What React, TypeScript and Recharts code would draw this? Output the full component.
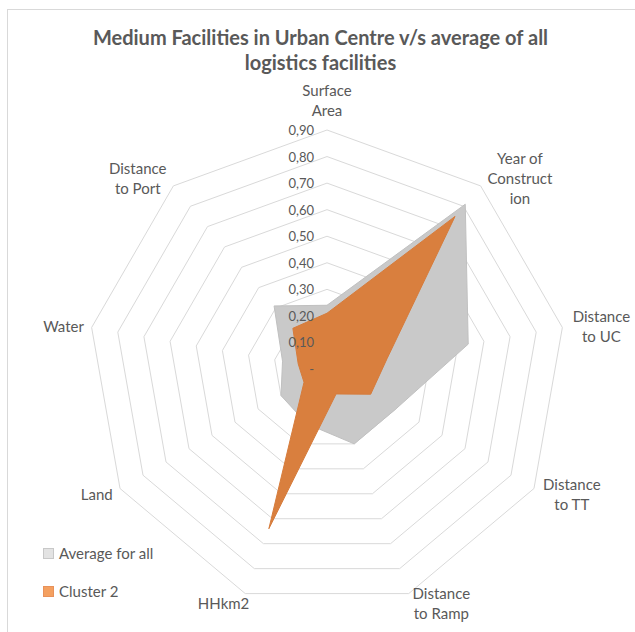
import { RadarChart, Radar, PolarGrid, PolarAngleAxis, PolarRadiusAxis } from 'recharts';

// axis categories (clockwise from the top)
const categories = [
  'Surface Area',
  'Year of Construction',
  'Distance to UC',
  'Distance to TT',
  'Distance to Ramp',
  'HHkm2',
  'Land',
  'Water',
  'Distance to Port',
];

// wrapped the way the original labels break
const categoryLines = [
  ['Surface', 'Area'],
  ['Year of', 'Construct', 'ion'],
  ['Distance', 'to UC'],
  ['Distance', 'to TT'],
  ['Distance', 'to Ramp'],
  ['HHkm2'],
  ['Land'],
  ['Water'],
  ['Distance', 'to Port'],
];

const averageForAll = [0.24, 0.81, 0.54, 0.3, 0.3, 0.22, 0.2, 0.17, 0.31];
const cluster2 = [0.21, 0.75, 0.23, 0.19, 0.1, 0.64, 0.1, 0.11, 0.2];

const radiusMax = 0.9;

const W = 635;
const H = 632;
const CX = 327;
const CY = 369;
const R = 239;
const FONT = 'Lato, "Open Sans", sans-serif';
const TEXT = '#595959';

const data = categories.map((c, i) => ({
  category: c,
  average: averageForAll[i],
  cluster: cluster2[i],
}));

function AngleTick(props: any) {
  const i = categories.indexOf(props.payload.value);
  const lines = categoryLines[i] || [props.payload.value];
  const theta = (i * 2 * Math.PI) / categories.length;
  const s = Math.sin(theta);
  const c = Math.cos(theta);
  const gap = 10;
  const ax = CX + (R + gap) * s;
  const ay = CY - (R + gap) * c;
  const lh = 20;
  const h = lines.length * lh;
  const w = Math.max(...lines.map((l) => l.length * 7.3));
  let x = ax;
  let y = ay;
  if (s > 0.1) x = ax + w / 2;
  else if (s < -0.1) x = ax - w / 2;
  else y = ay - (c * h) / 2;
  const top = y - h / 2 + lh / 2;
  return (
    <text x={x} y={top} textAnchor="middle" fill={TEXT} fontSize={15} fontFamily={FONT}>
      {lines.map((l, k) => (
        <tspan key={k} x={x} y={top + k * lh} dominantBaseline="central">
          {l}
        </tspan>
      ))}
    </text>
  );
}

function RadiusTick(props: any) {
  const v = props.payload.value;
  const label = v === 0 ? '-' : v.toFixed(2).replace('.', ',');
  return (
    <text
      x={props.x - 13}
      y={props.y}
      textAnchor="end"
      dominantBaseline="central"
      fill={TEXT}
      fontSize={13}
      fontFamily={FONT}
    >
      {label}
    </text>
  );
}

export default function App() {
  return (
    <div style={{ position: 'absolute', left: 0, top: 0, width: W, height: H, overflow: 'hidden', background: '#fff' }}>
      <div
        style={{
          position: 'absolute',
          left: 7,
          top: 9,
          width: W + 20,
          height: H + 20,
          border: '1px solid #d9d9d9',
        }}
      />
      <div
        style={{
          position: 'absolute',
          left: 0,
          top: 25,
          width: 641,
          textAlign: 'center',
          fontFamily: FONT,
          fontWeight: 700,
          fontSize: 20,
          lineHeight: '25px',
          color: TEXT,
        }}
      >
        Medium Facilities in Urban Centre v/s average of all
        <br />
        logistics facilities
      </div>
      <div style={{ position: 'absolute', left: 0, top: 0 }}>
        <RadarChart width={W} height={H} cx={CX} cy={CY} outerRadius={R} data={data} margin={{ top: 0, right: 0, bottom: 0, left: 0 }}>
          <PolarGrid gridType="polygon" radialLines={false} stroke="#d9d9d9" />
          <PolarAngleAxis dataKey="category" tick={AngleTick} axisLine={false} tickLine={false} />
          <PolarRadiusAxis
            angle={90}
            type="number"
            scale="linear"
            domain={[0, radiusMax]}
            allowDataOverflow
            allowDecimals
            tickCount={10}
            axisLine={false}
            tick={RadiusTick}
          />
          <Radar
            name="Average for all"
            dataKey="average"
            stroke="#c0c0c0"
            strokeWidth={1}
            fill="#c9c9c9"
            fillOpacity={1}
            isAnimationActive={false}
          />
          <Radar
            name="Cluster 2"
            dataKey="cluster"
            stroke="#d67c3c"
            strokeWidth={1}
            fill="#d97f3e"
            fillOpacity={1}
            isAnimationActive={false}
          />
        </RadarChart>
      </div>
      <div style={{ position: 'absolute', left: 43, top: 534, fontFamily: FONT, fontSize: 15, color: TEXT }}>
        {[
          { name: 'Average for all', fill: '#e3e3e3', border: '#c8c8c8' },
          { name: 'Cluster 2', fill: '#f4a060', border: '#e8915a' },
        ].map((item) => (
          <div key={item.name} style={{ display: 'flex', alignItems: 'center', height: 38 }}>
            <span
              style={{
                display: 'inline-block',
                width: 9,
                height: 9,
                background: item.fill,
                border: `1px solid ${item.border}`,
                marginRight: 5,
              }}
            />
            {item.name}
          </div>
        ))}
      </div>
    </div>
  );
}
